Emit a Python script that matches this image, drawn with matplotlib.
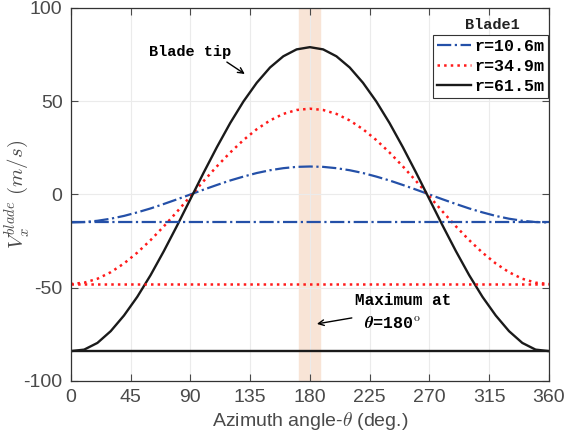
import matplotlib.pyplot as plt

plt.rcParams['font.family'] = ['Liberation Sans', 'DejaVu Sans']
plt.rcParams['mathtext.fontset'] = 'cm'
plt.rcParams['axes.unicode_minus'] = False

# azimuth angle (deg.)
theta = [0, 10, 20, 30, 40, 50, 60, 70, 80, 90, 100, 110, 120, 130, 140, 150, 160, 170, 180,
         190, 200, 210, 220, 230, 240, 250, 260, 270, 280, 290, 300, 310, 320, 330, 340, 350, 360]

half_r106 = [-15, -14.8, -14.1, -13.0, -11.5, -9.6, -7.5, -5.1, -2.6, 0, 2.6, 5.1, 7.5, 9.6,
             11.5, 13.0, 14.1, 14.8, 15]
half_r349 = [-48, -47.3, -45.2, -41.7, -37.0, -31.2, -24.5, -17.1, -9.2, -1, 7.2, 15.1, 22.5,
             29.2, 35.0, 39.7, 43.2, 45.3, 46]
half_r615 = [-84, -83.2, -79.6, -73.3, -64.9, -54.9, -43.3, -30.4, -16.7, -2.5, 11.7, 25.4,
             38.3, 49.9, 59.9, 68.1, 74.1, 77.8, 79]
v_r106 = half_r106 + half_r106[-2::-1]
v_r349 = half_r349 + half_r349[-2::-1]
v_r615 = half_r615 + half_r615[-2::-1]

# constant (baseline) values drawn as horizontal lines
base_r106 = -15
base_r349 = -48
base_r615 = -84

labels = ['r=10.6m', 'r=34.9m', 'r=61.5m']
band = (172, 188)

blue = '#2450a8'
red = '#ff1a1a'
black = '#1a1a1a'
tick_gray = '#4a4a4a'
mono = ['Liberation Mono', 'DejaVu Sans Mono']

fig = plt.figure(figsize=(5.67, 4.44), dpi=100)
ax = fig.add_axes([0.125, 0.142, 0.843, 0.840])

ax.axvspan(band[0], band[1], color='#f8e4d6', zorder=0)

ax.plot(theta, v_r106, '-.', color=blue, lw=1.6, label=labels[0])
ax.plot(theta, v_r349, ':', color=red, lw=1.8, label=labels[1])
ax.plot(theta, v_r615, '-', color=black, lw=1.7, label=labels[2])
ax.axhline(base_r106, ls='-.', color=blue, lw=1.6)
ax.axhline(base_r349, ls=':', color=red, lw=1.8)
ax.axhline(base_r615, ls='-', color=black, lw=1.7)

ax.set_xlim(0, 360)
ax.set_ylim(-100, 100)
ax.set_xticks(range(0, 361, 45))
ax.set_yticks([-100, -50, 0, 50, 100])
ax.grid(True, color='#ebebeb', lw=0.8)
ax.set_axisbelow(True)
ax.tick_params(direction='in', top=True, right=True, labelsize=14,
               colors=tick_gray, length=5, width=0.8, pad=6)
for s in ax.spines.values():
    s.set_color('#333333')
    s.set_linewidth(0.9)

ax.set_xlabel(r'Azimuth angle-$\theta$ (deg.)', fontsize=14, color=tick_gray, labelpad=3)
ax.set_ylabel(r'$V_x^{blade}\ (m/s)$', fontsize=15, color=tick_gray)
ax.yaxis.set_label_coords(-0.082, 0.5)

leg = ax.legend(loc='upper right', bbox_to_anchor=(0.9985, 0.928),
                prop={'family': mono, 'weight': 'bold', 'size': 12},
                handlelength=2.0, handletextpad=0.2, borderpad=0.25,
                labelspacing=0.3, fancybox=False, framealpha=1, borderaxespad=0)
leg.get_frame().set_edgecolor('#333333')
leg.get_frame().set_linewidth(0.8)
ax.text(0.881, 0.954, 'Blade1', transform=ax.transAxes, ha='center', va='center',
        family=mono, weight='bold', fontsize=11, color='#222222')

ax.text(90, 76.4, 'Blade tip', ha='center', va='center',
        family=mono, weight='bold', fontsize=11)
ax.annotate('', xy=(131, 64.6), xytext=(117.5, 71.0),
            arrowprops=dict(arrowstyle='->', color='black', lw=1, shrinkA=0, shrinkB=0))
ax.text(250, -56.6, 'Maximum at', ha='center', va='center',
        family=mono, weight='bold', fontsize=11.5)
ax.text(242, -69.0, r'$\boldsymbol{\theta}$=180$^{\rm o}$', ha='center', va='center',
        family=mono, weight='bold', fontsize=12)
ax.annotate('', xy=(185.3, -69.4), xytext=(211.6, -66.2),
            arrowprops=dict(arrowstyle='->', color='black', lw=1, shrinkA=0, shrinkB=0))

fig.savefig('out.png', dpi=100)
